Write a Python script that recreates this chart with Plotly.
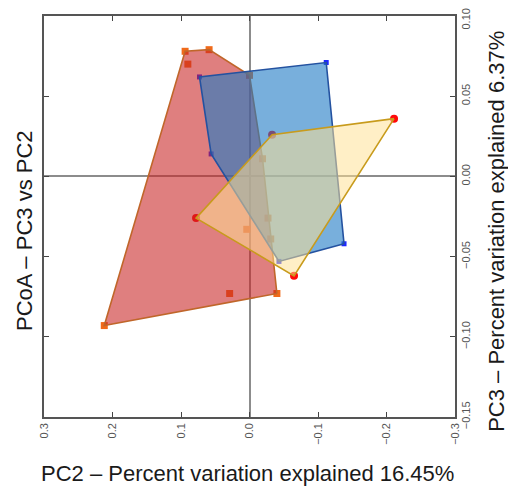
import plotly.graph_objects as go

# ---- data (PC2, PC3 coordinates per group) ----
red_pc2 = [0.094, 0.059, 0.000, -0.019, -0.040, 0.212, 0.090, 0.029, 0.004, -0.027, -0.031]
red_pc3 = [0.078, 0.079, 0.063, 0.011, -0.073, -0.093, 0.070, -0.073, -0.033, -0.026, -0.039]

blue_pc2 = [0.073, -0.112, -0.138, -0.043, 0.056]
blue_pc3 = [0.062, 0.071, -0.042, -0.053, 0.014]

yellow_pc2 = [0.078, -0.033, -0.211, -0.065]
yellow_pc3 = [-0.026, 0.026, 0.036, -0.062]

x_ticks = [0.3, 0.2, 0.1, 0.0, -0.1, -0.2, -0.3]
y_ticks = [0.10, 0.05, 0.00, -0.05, -0.10, -0.15]

x_title = "PC2 \u2013 Percent variation explained 16.45%"
y_title_left = "PCoA \u2013 PC3 vs PC2"
y_title_right = "PC3 \u2013 Percent variation explained 6.37%"

Y_MAX = max(y_ticks)


def hull(xs, ys):
    pts = sorted(set(zip(xs, ys)))
    if len(pts) < 3:
        return pts

    def cross(o, a, b):
        return (a[0] - o[0]) * (b[1] - o[1]) - (a[1] - o[1]) * (b[0] - o[0])

    lower = []
    for p in pts:
        while len(lower) >= 2 and cross(lower[-2], lower[-1], p) <= 0:
            lower.pop()
        lower.append(p)
    upper = []
    for p in reversed(pts):
        while len(upper) >= 2 and cross(upper[-2], upper[-1], p) <= 0:
            upper.pop()
        upper.append(p)
    return lower[:-1] + upper[:-1]


fig = go.Figure()

# markers first (polygons are drawn over them)
fig.add_trace(go.Scatter(x=red_pc2, y=red_pc3, mode="markers",
                         marker=dict(symbol="square", size=7, color="#f06a1a",
                                     line=dict(width=0)),
                         hoverinfo="x+y", showlegend=False))
fig.add_trace(go.Scatter(x=blue_pc2, y=blue_pc3, mode="markers",
                         marker=dict(symbol="square", size=5, color="#1e28ff",
                                     line=dict(width=0)),
                         hoverinfo="x+y", showlegend=False))
fig.add_trace(go.Scatter(x=yellow_pc2, y=yellow_pc3, mode="markers",
                         marker=dict(symbol="circle", size=8, color="#ff0a0a",
                                     line=dict(width=0)),
                         hoverinfo="x+y", showlegend=False))

groups = [
    (red_pc2, red_pc3, "rgba(200,35,35,0.58)", "#c0662a"),
    (blue_pc2, blue_pc3, "rgba(30,122,197,0.6)", "#2452a0"),
    (yellow_pc2, yellow_pc3, "rgba(255,224,148,0.53)", "#c89b1c"),
]
for xs, ys, fillc, linec in groups:
    h = hull(xs, ys)
    hx = [p[0] for p in h] + [h[0][0]]
    hy = [p[1] for p in h] + [h[0][1]]
    fig.add_trace(go.Scatter(x=hx, y=hy, mode="lines", fill="toself",
                             fillcolor=fillc, line=dict(color=linec, width=1.6),
                             hoverinfo="skip", showlegend=False))

tickfont = dict(family="Liberation Sans, Arial, sans-serif", size=11, color="#555555")
titlefont = dict(family="Liberation Sans, Arial, sans-serif", size=22, color="#1a1a1a")

# y tick labels: the topmost one would be clipped at the page edge, so it is
# written as an annotation just below the edge instead
y_text = ["" if v == Y_MAX else f"{v:.2f}".replace("-", "\u2212") for v in y_ticks]

fig.update_xaxes(range=[0.3, -0.3], tickvals=x_ticks, tickformat=".1f",
                 ticks="inside", ticklen=5, tickwidth=1.2, tickcolor="#444444",
                 showline=True, linecolor="#555555", linewidth=1.5, mirror="allticks",
                 showgrid=False, zeroline=True, zerolinecolor="#8c8c8c", zerolinewidth=2,
                 tickangle=-90, tickfont=tickfont, side="bottom",
                 ticklabeloverflow="allow", automargin=False)
fig.update_yaxes(range=[-0.15, 0.10], tickvals=y_ticks, ticktext=y_text,
                 ticks="inside", ticklen=5, tickwidth=1.2, tickcolor="#444444",
                 showline=True, linecolor="#555555", linewidth=1.5, mirror="allticks",
                 showgrid=False, zeroline=True, zerolinecolor="#8c8c8c", zerolinewidth=2,
                 tickangle=-90, tickfont=tickfont, side="right",
                 ticklabeloverflow="allow", automargin=False)

PLOT_H = 488 - 8 - 79

# the page body adds an 8px margin; size the figure so it fits the 516x496 window
fig.update_layout(
    width=508, height=488,
    margin=dict(l=36, r=61, t=8, b=79),
    paper_bgcolor="white", plot_bgcolor="white",
    showlegend=False,
    annotations=[
        dict(text=f"{Y_MAX:.2f}", xref="paper", yref="paper",
             x=1 + 4.0 / 411, y=1 + 8.0 / PLOT_H,
             xanchor="left", yanchor="top", showarrow=False, textangle=-90,
             borderpad=0, font=tickfont),
        dict(text=x_title, xref="paper", yref="paper", x=0.495, y=-0.142,
             xanchor="center", yanchor="middle", showarrow=False, font=titlefont),
        dict(text=y_title_left, xref="paper", yref="paper", x=-0.049, y=0.466,
             xanchor="center", yanchor="middle", showarrow=False, textangle=-90,
             font=titlefont),
        dict(text=y_title_right, xref="paper", yref="paper", x=1.102, y=0.464,
             xanchor="center", yanchor="middle", showarrow=False, textangle=-90,
             font=titlefont),
    ],
)

fig.write_html("out.html")
